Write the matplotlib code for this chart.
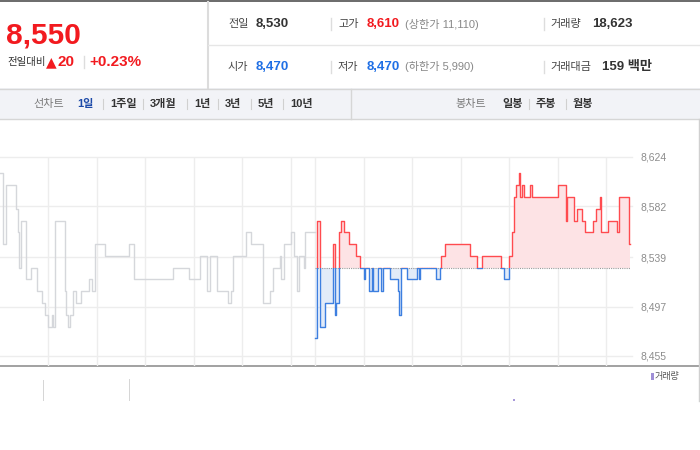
import numpy as np
import matplotlib.pyplot as plt
from matplotlib.patches import Rectangle

plt.rcParams['font.family'] = ['Liberation Sans', 'Noto Sans CJK KR', 'DejaVu Sans']

# Quote summary
price_now = 8550
change = 20
change_pct = 0.23
prev_close = 8530
open_price = 8470
high_price = 8610
low_price = 8470
upper_limit = 11110
lower_limit = 5990
volume_total = 18623
amount_mil = 159

range_tabs = ['1일', '1주일', '3개월', '1년', '3년', '5년', '10년']
candle_tabs = ['일봉', '주봉', '월봉']

# Intraday ticks: minute in the 390 minute window, price (steps)
prev_t = [0, 2, 4, 10, 11, 12, 13, 16, 19, 23, 26, 28, 30, 32, 33, 34, 40, 41, 42, 43,
          45, 47, 50, 55, 57, 59, 65, 80, 83, 107, 117, 124, 128, 130, 134, 141, 143,
          144, 152, 155, 163, 167, 169, 173, 174, 176, 180, 182, 184, 185, 188, 189]
prev_p = [8610, 8550, 8600, 8580, 8560, 8530, 8570, 8520, 8530, 8510, 8500, 8490, 8480,
          8490, 8480, 8570, 8510, 8490, 8480, 8490, 8510, 8500, 8510, 8520, 8510, 8550,
          8540, 8550, 8520, 8530, 8520, 8540, 8510, 8540, 8510, 8500, 8510, 8540, 8560,
          8550, 8500, 8510, 8530, 8540, 8520, 8550, 8560, 8540, 8510, 8540, 8530, 8560]

today_t = [195, 196, 198, 201, 206, 207, 208, 210, 211, 213, 216, 220, 223, 225, 226, 228,
           230, 231, 234, 236, 237, 241, 246, 247, 248, 252, 258, 259, 260, 270, 272, 273,
           275, 291, 295, 298, 310, 312, 315, 317, 318, 319, 321, 322, 323, 324, 328, 329,
           345, 350, 351, 355, 357, 360, 362, 367, 369, 371, 372, 376, 382, 383, 389]
today_p = [8470, 8570, 8480, 8500, 8550, 8490, 8500, 8560, 8570, 8560, 8550, 8540, 8530,
           8520, 8530, 8510, 8530, 8510, 8530, 8510, 8530, 8520, 8510, 8490, 8530, 8520,
           8530, 8520, 8530, 8520, 8530, 8540, 8550, 8540, 8530, 8540, 8530, 8520, 8540,
           8560, 8590, 8600, 8610, 8590, 8600, 8590, 8600, 8590, 8600, 8570, 8590, 8570,
           8580, 8570, 8560, 8570, 8580, 8590, 8560, 8570, 8560, 8590, 8550]

vol_t = [27, 80, 318]
vol = [1200, 1250, 100]
vol_colors = ['#d6d6d6', '#d6d6d6', '#a899da']

ytick_vals = [8455, 8497, 8539, 8582, 8624]
day_start = 195
window_end = 390

RED = '#f21a1f'
BLUE = '#1f6fe5'
DARK = '#333333'
GRAY = '#888888'

fig = plt.figure(figsize=(7, 4.5), dpi=100)

# background layer in pixel coordinates
bg = fig.add_axes([0, 0, 1, 1], zorder=0)
bg.set_xlim(0, 700)
bg.set_ylim(450, 0)
bg.axis('off')

# header frame
bg.add_patch(Rectangle((0, 0), 700, 2, color='#6e6e6e', lw=0))
bg.plot([208, 208], [2, 88], color='#dcdcdc', lw=1.5)
bg.plot([208, 700], [45, 45], color='#e6e6e6', lw=1)
bg.add_patch(Rectangle((0, 88), 700, 31, facecolor='#f2f3f7', edgecolor='none'))
bg.plot([0, 700], [88.5, 88.5], color='#d6d6d6', lw=1)
bg.plot([0, 700], [119, 119], color='#d6d6d6', lw=1)
bg.plot([350.5, 350.5], [89, 119], color='#d6d6d6', lw=1)

# current price block
bg.text(6, 36, f'{price_now:,}', color=RED, fontsize=21.5, fontweight='bold', va='center')
bg.text(7, 62, '전일대비', color=DARK, fontsize=7.5, va='center')
bg.text(46, 62, '▲', color=RED, fontsize=10, va='center', family=['DejaVu Sans'])
bg.text(58, 62, f'{change}', color=RED, fontsize=11, fontweight='bold', va='center')
bg.plot([84, 84], [56, 68], color='#dddddd', lw=1)
bg.text(89, 62, f'+{change_pct:.2f}%', color=RED, fontsize=11, fontweight='bold', va='center')

# summary rows
def row_item(x, y, label, value, color, extra=None, vx=None):
    bg.text(x, y, label, color='#444444', fontsize=8, va='center')
    bg.text(vx, y, value, color=color, fontsize=9.5, fontweight='bold', va='center')
    if extra:
        bg.text(vx + 38, y, extra, color=GRAY, fontsize=8, va='center')

r1, r2 = 24, 67
row_item(228, r1, '전일', f'{prev_close:,}', DARK, vx=256)
row_item(338, r1, '고가', f'{high_price:,}', RED, f'(상한가 {upper_limit:,})', vx=367)
row_item(550, r1, '거래량', f'{volume_total:,}', DARK, vx=592)
row_item(228, r2, '시가', f'{open_price:,}', BLUE, vx=256)
row_item(338, r2, '저가', f'{low_price:,}', BLUE, f'(하한가 {lower_limit:,})', vx=367)
row_item(550, r2, '거래대금', f'{amount_mil} 백만', DARK, vx=602)
for sx in [331, 544]:
    for ry in [r1, r2]:
        bg.plot([sx, sx], [ry - 6, ry + 6], color='#dddddd', lw=1)

# tab bar
ty = 104
bg.text(33, ty, '선차트', color='#7a7a7a', fontsize=8, va='center')
tab_x = [77, 110, 150, 194, 225, 258, 290]
for i, (tx, lab) in enumerate(zip(tab_x, range_tabs)):
    bg.text(tx, ty, lab, color='#1d4aa8' if i == 0 else DARK, fontsize=8,
            fontweight='bold', va='center')
    if i > 0:
        bg.plot([tx - 7.5, tx - 7.5], [ty - 5, ty + 5], color='#d0d0d0', lw=0.8)
bg.text(455, ty, '봉차트', color='#7a7a7a', fontsize=8, va='center')
for i, (tx, lab) in enumerate(zip([502, 536, 573], candle_tabs)):
    bg.text(tx, ty, lab, color=DARK, fontsize=8, fontweight='bold', va='center')
    if i > 0:
        bg.plot([tx - 7.5, tx - 7.5], [ty - 5, ty + 5], color='#d0d0d0', lw=0.8)

# chart frame
bg.plot([0, 700], [366, 366], color='#9a9a9a', lw=1.3)
bg.plot([699, 699], [119, 401], color='#d0d0d0', lw=1)
bg.add_patch(Rectangle((651, 373), 2.5, 6.5, color='#9f8fd6', lw=0))
bg.text(655, 377, '거래량', color='#555555', fontsize=6.5, va='center')

# price chart
ax = fig.add_axes([0, 1 - 366 / 450, 632 / 700, (366 - 157) / 450], zorder=1)
ax.patch.set_visible(False)
ax.set_xlim(0, 391)
ax.set_ylim(8446.5, 8624)
for s in ax.spines.values():
    s.set_visible(False)
ax.set_xticks([])
ax.set_yticks(ytick_vals)
ax.set_yticklabels([f'{v:,}' for v in ytick_vals])
ax.yaxis.tick_right()
ax.tick_params(axis='y', length=0, pad=6, labelsize=7.5, labelcolor='#8c8c8c')
for v in ytick_vals:
    ax.axhline(v, color='#ededed', lw=1, zorder=0, clip_on=False)
grid_x = list(range(30, day_start, 30)) + list(range(day_start, window_end, 30))
for gx in grid_x:
    ax.axvline(gx, color='#ededed', lw=1, zorder=0)

# previous day in grey
pt = np.array(prev_t + [day_start])
pp = np.array(prev_p + [prev_p[-1]])
ax.step(pt, pp, where='post', color='#d5d7db', lw=1.0, zorder=2)

# today vs previous close
tt = np.array(today_t + [window_end])
tp = np.array(today_p + [today_p[-1]])
ax.fill_between(tt, np.maximum(tp, prev_close), prev_close, step='post',
                color='#fde3e5', lw=0, zorder=1)
ax.fill_between(tt, np.minimum(tp, prev_close), prev_close, step='post',
                color='#e2ebf8', lw=0, zorder=1)
ax.plot([day_start, window_end], [prev_close, prev_close], color='#9a9a9a',
        lw=0.8, ls=(0, (1, 1)), zorder=2)

up_line, = ax.step(tt, tp, where='post', color='#ff4b4f', lw=1.0, zorder=3)
dn_line, = ax.step(tt, tp, where='post', color='#3d7fe0', lw=1.0, zorder=3)
up_line.set_clip_path(Rectangle((day_start - 1, prev_close - 0.6), 300, 300,
                                transform=ax.transData))
dn_line.set_clip_path(Rectangle((day_start - 1, 8300), 300, prev_close - 0.6 - 8300,
                                transform=ax.transData))

# volume strip
vax = fig.add_axes([0, 1 - 401 / 450, 632 / 700, 34 / 450], zorder=1)
vax.patch.set_visible(False)
vax.bar(vol_t, vol, width=0.7, color=vol_colors)
vax.set_xlim(0, 391)
vax.set_ylim(0, 1900)
vax.axis('off')

fig.savefig('out.png', dpi=100)
